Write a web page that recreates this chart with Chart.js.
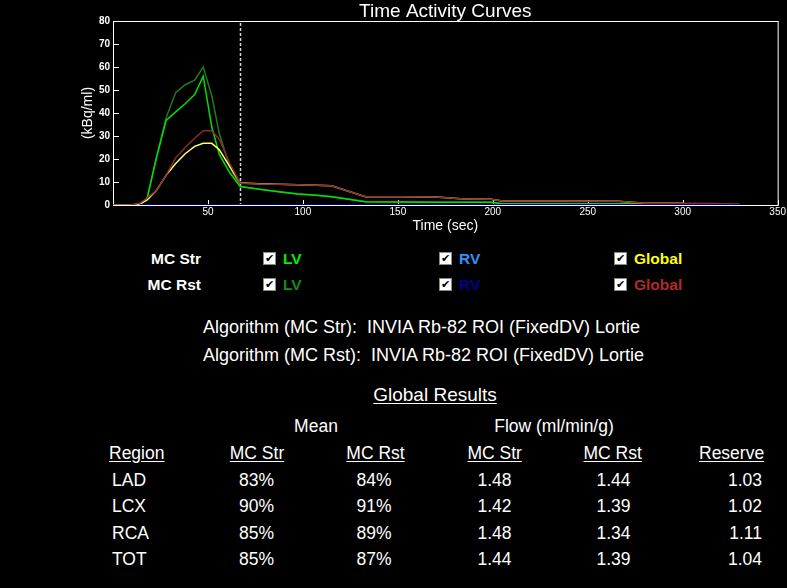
<!DOCTYPE html>
<html>
<head>
<meta charset="utf-8">
<script src="https://cdn.jsdelivr.net/npm/chart.js@4/dist/chart.umd.min.js"></script>
<style>
  html, body { margin:0; padding:0; background:#000; }
  body { width:787px; height:588px; overflow:hidden; position:relative; font-family:"Liberation Sans", Arial, sans-serif; color:#fff; }
  #wrap { position:absolute; left:0; top:0; width:787px; height:240px; }
  .t { position:absolute; white-space:pre; }
  .lg { font-weight:bold; font-size:15.5px; line-height:18px; }
  .cb { position:absolute; width:11px; height:11px; background:#fff; border:1px solid #888; color:#000; font-size:11px; line-height:11px; text-align:center; font-family:"DejaVu Sans", sans-serif; font-weight:bold; }
  .tb { font-size:17.5px; line-height:22px; }
  .u { text-decoration:underline; text-underline-offset:2px; }
</style>
</head>
<body>
<div id="wrap"><canvas id="c" width="787" height="240"></canvas></div>
<div id="legend"></div>
<div class="t" style="left:203px;top:316px;font-size:18px;line-height:22px;">Algorithm (MC Str):  INVIA Rb-82 ROI (FixedDV) Lortie</div>
<div class="t" style="left:203px;top:344px;font-size:18px;line-height:22px;">Algorithm (MC Rst):  INVIA Rb-82 ROI (FixedDV) Lortie</div>
<div id="table"></div>
<script>
// ---- chart data ----
const times   = [0, 5, 9, 14, 18, 23, 28, 33, 38, 43, 47.5, 52, 56, 61.5, 67, 77, 87, 97, 107, 115, 133, 150, 170, 185, 199, 205, 230, 266, 280, 300, 317, 330];
const lvStr   = [0, 0, 0, 0.3, 3, 21, 36.8, 40.5, 44, 48, 56, 34, 22, 14, 8, 6.8, 5.8, 4.8, 4.2, 3.6, 1.4, 1.3, 1.2, 1.2, 1.2, 0.5, 0.5, 0.5, 0.5, 0.5, null, null];
const lvRst   = [0, 0, 0, 0.3, 3, 21, 38, 48.8, 52.3, 54.3, 60, 47.5, 31, 16.5, 8, 6.9, 5.9, 4.9, 4.2, 3.7, 1.4, 1.3, 1.2, 1.2, 1.2, 0.4, 0.4, 0.4, 0.4, 0.4, null, null];
const rvStr   = [null, null, null, 0, 0, 0, 0, 0, 0, 0, 0, 0, 0, 0, 0, 0, 0, 0, 0, 0, 0, 0, 0, 0, 0, 0, 0, 0, 0, 0, 0, 0];
const rvRst   = [null, null, null, 0, 0, 0, 0, 0, 0, 0, 0, 0, 0, 0, 0, 0, 0, 0, 0, 0, 0, 0, 0, 0, 0, 0, 0, 0, 0, 0, 0, 0];
const glStr   = [0, 0, 0, 0.3, 2.2, 6.5, 13, 18, 22.3, 25.5, 26.8, 26.8, 24, 16.7, 9.6, 9.2, 9.0, 8.8, 8.6, 8.4, 3.6, 3.6, 3.5, 2.6, 2.5, 1.7, 1.7, 1.6, 0.8, 0.8, null, null];
const glRst   = [0, 0, 0, 0.7, 3, 6.5, 13, 20.5, 25, 29, 32.3, 32.3, 28.5, 18.1, 9.4, 9.1, 9.0, 8.8, 8.6, 8.4, 3.6, 3.6, 3.5, 2.6, 2.5, 1.7, 1.7, 1.6, 0.8, 0.8, 0.7, 0.4];
const markerTime = 67;
const xTickValues = [50, 100, 150, 200, 250, 300, 350];
const yTickValues = [0, 10, 20, 30, 40, 50, 60, 70, 80];

// ---- table data ----
const regions   = ["LAD", "LCX", "RCA", "TOT"];
const meanStr   = ["83%", "90%", "85%", "85%"];
const meanRst   = ["84%", "91%", "89%", "87%"];
const flowStr   = ["1.48", "1.42", "1.48", "1.44"];
const flowRst   = ["1.44", "1.39", "1.34", "1.39"];
const reserve   = ["1.03", "1.02", "1.11", "1.04"];

function pts(vals) {
  const out = [];
  vals.forEach((v, i) => { if (v !== null) out.push({x: times[i], y: v}); });
  return out;
}

const FONT = "'Liberation Sans', Arial, sans-serif";

const framePlugin = {
  id: 'frame',
  beforeDatasetsDraw(chart) {
    const {ctx, chartArea: a, scales: {x, y}} = chart;
    ctx.save();
    ctx.strokeStyle = '#fff';
    ctx.lineWidth = 1;
    ctx.strokeRect(a.left + 0.5, a.top + 0.5, a.right - a.left, a.bottom - a.top);
    ctx.beginPath();
    xTickValues.forEach(v => {
      const px = Math.round(x.getPixelForValue(v)) + 0.5;
      ctx.moveTo(px, a.bottom); ctx.lineTo(px, a.bottom - 5);
    });
    yTickValues.forEach(v => {
      const py = Math.round(y.getPixelForValue(v)) + 0.5;
      ctx.moveTo(a.left, py); ctx.lineTo(a.left + 6, py);
    });
    ctx.stroke();
    // dashed marker
    const mx = Math.round(x.getPixelForValue(markerTime)) + 0.5;
    ctx.strokeStyle = '#d8d8d8';
    ctx.lineWidth = 1.5;
    ctx.setLineDash([3, 2]);
    ctx.beginPath();
    ctx.moveTo(mx, a.top + 2); ctx.lineTo(mx, a.bottom);
    ctx.stroke();
    ctx.restore();
  }
};

const ds = (label, vals, color, order, width) => ({
  label, data: pts(vals), borderColor: color, backgroundColor: color,
  borderWidth: width || 1.5, pointRadius: 0, tension: 0, fill: false, order
});

new Chart(document.getElementById('c'), {
  type: 'line',
  data: {
    datasets: [
      ds('RV Rst', rvRst, '#000090', 0, 2),
      ds('RV Str', rvStr, '#3080ff', 1),
      ds('Global Rst', glRst, '#8a2a2a', 2),
      ds('Global Str', glStr, '#ffff70', 3),
      ds('LV Str', lvStr, '#00e000', 4),
      ds('LV Rst', lvRst, '#1e7a1e', 5)
    ]
  },
  options: {
    responsive: false,
    animation: false,
    events: [],
    layout: { padding: { left: 0, right: 9, top: 0, bottom: 0 } },
    plugins: {
      legend: { display: false },
      tooltip: { enabled: false },
      title: {
        display: true, text: 'Time Activity Curves', color: '#fff', fullSize: false,
        font: { family: FONT, size: 19, weight: 'normal', lineHeight: 1.0 },
        padding: { top: 2, bottom: 0 }
      }
    },
    scales: {
      x: {
        type: 'linear', min: 0, max: 350,
        afterBuildTicks: s => { s.ticks = [0].concat(xTickValues).map(v => ({value: v})); },
        ticks: { color: '#fff', font: { family: FONT, size: 10 }, padding: 1, maxRotation: 0,
                 callback: v => v === 0 ? '' : String(v) },
        grid: { display: false, drawTicks: false },
        border: { display: false },
        title: { display: true, text: 'Time (sec)', color: '#fff', font: { family: FONT, size: 14 }, padding: { top: 0, bottom: 5 } },
        afterFit: s => { s.height = 35; }
      },
      y: {
        type: 'linear', min: 0, max: 80,
        afterBuildTicks: s => { s.ticks = yTickValues.map(v => ({value: v})); },
        ticks: { color: '#fff', font: { family: FONT, size: 10, weight: 'bold' }, padding: 3 },
        grid: { display: false, drawTicks: false },
        border: { display: false },
        title: { display: true, text: '(kBq/ml)', color: '#fff', font: { family: FONT, size: 14 }, padding: { top: 80, bottom: 0 } },
        afterFit: s => { s.width = 113; }
      }
    }
  },
  plugins: [framePlugin]
});

// ---- legend (HTML) ----
const legendRows = [
  { name: 'MC Str', y: 259, items: [['LV', '#00ee00'], ['RV', '#3390ff'], ['Global', '#ffff00']] },
  { name: 'MC Rst', y: 285, items: [['LV', '#1a8a1a'], ['RV', '#000090'], ['Global', '#b02a2a']] }
];
const legendX = [263, 439, 614];
const lg = document.getElementById('legend');
legendRows.forEach(r => {
  const n = document.createElement('div');
  n.className = 't lg';
  n.style.cssText = `left:140px;width:61px;text-align:right;top:${r.y - 9}px;`;
  n.textContent = r.name;
  lg.appendChild(n);
  r.items.forEach((it, i) => {
    const cb = document.createElement('div');
    cb.className = 'cb';
    cb.style.left = legendX[i] + 'px';
    cb.style.top = (r.y - 7) + 'px';
    cb.textContent = '\u2714';
    lg.appendChild(cb);
    const l = document.createElement('div');
    l.className = 't lg';
    l.style.cssText = `left:${legendX[i] + 20}px;top:${r.y - 9}px;color:${it[1]};`;
    l.textContent = it[0];
    lg.appendChild(l);
  });
});

// ---- table (HTML) ----
const tb = document.getElementById('table');
function cell(text, x, y, align, extra) {
  const d = document.createElement('div');
  d.className = 't tb' + (extra ? ' ' + extra : '');
  let st = `top:${y - 11}px;`;
  if (align === 'left') st += `left:${x}px;`;
  else if (align === 'right') st += `left:${x - 200}px;width:200px;text-align:right;`;
  else st += `left:${x - 100}px;width:200px;text-align:center;`;
  d.style.cssText = st;
  d.textContent = text;
  tb.appendChild(d);
  return d;
}
const gr = cell('Global Results', 435, 395, 'center', 'u');
gr.style.fontSize = '19px';
cell('Mean', 316, 426, 'center');
cell('Flow (ml/min/g)', 554, 426, 'center');
const hy = 453;
cell('Region', 109, hy, 'left', 'u');
cell('MC Str', 257, hy, 'center', 'u');
cell('MC Rst', 375.5, hy, 'center', 'u');
cell('MC Str', 494.7, hy, 'center', 'u');
cell('MC Rst', 612.7, hy, 'center', 'u');
cell('Reserve', 731.6, hy, 'center', 'u');
const rowY = [479.5, 506, 532.5, 559];
regions.forEach((r, i) => {
  const y = rowY[i];
  cell(r, 112, y, 'left');
  cell(meanStr[i], 256.6, y, 'center');
  cell(meanRst[i], 374, y, 'center');
  cell(flowStr[i], 494.5, y, 'center');
  cell(flowRst[i], 613.5, y, 'center');
  cell(reserve[i], 762, y, 'right');
});
</script>
</body>
</html>
